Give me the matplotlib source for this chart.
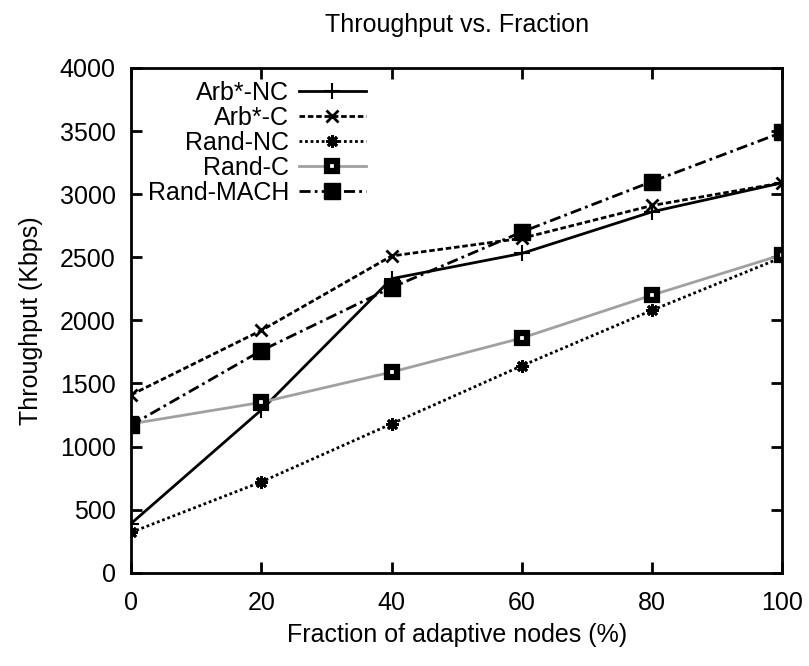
import matplotlib.pyplot as plt

plt.rcParams['font.family'] = ['Liberation Sans', 'DejaVu Sans']

fraction = [0, 20, 40, 60, 80, 100]
arb_nc = [390, 1290, 2330, 2530, 2860, 3090]
arb_c = [1410, 1920, 2510, 2650, 2910, 3090]
rand_nc = [320, 720, 1180, 1640, 2080, 2500]
rand_c = [1180, 1350, 1590, 1860, 2200, 2520]
rand_mach = [1170, 1760, 2260, 2700, 3100, 3490]

f = plt.figure(figsize=(8.09, 6.66), dpi=100)
f.subplots_adjust(left=0.162, right=0.967, bottom=0.140, top=0.898)
ax = f.add_subplot(111)

fs = 18
ax.plot(fraction, arb_nc, color="black", linewidth=2.0, linestyle="-",
        marker="+", markersize=12, markeredgewidth=1.5, label="Arb*-NC")
ax.plot(fraction, arb_c, color="black", linewidth=2.0, linestyle=(0, (2, 1)),
        marker="x", markersize=9, markeredgewidth=2.0, label="Arb*-C")
ax.plot(fraction, rand_nc, color="black", linewidth=2.0, linestyle=(0, (1, 1)),
        marker=(8, 2, 0), markersize=9, markeredgewidth=2.0, label="Rand-NC")
ax.plot(fraction, rand_c, color="#a0a0a0", linewidth=2.0, linestyle="-",
        marker="s", markersize=7, markerfacecolor="white", markeredgecolor="black",
        markeredgewidth=4.5, label="Rand-C")
ax.plot(fraction, rand_mach, color="black", linewidth=2.0, linestyle=(0, (4, 1.5, 1, 1.5)),
        marker="s", markersize=12, markerfacecolor="black", markeredgecolor="black",
        label="Rand-MACH")

ax.set_xlim(0, 100)
ax.set_ylim(0, 4000)
ax.set_xticks([0, 20, 40, 60, 80, 100])
ax.set_yticks(range(0, 4001, 500))
ax.tick_params(direction="in", length=8, width=2, labelsize=fs, top=True, right=True)
ax.tick_params(axis="x", pad=13)
ax.tick_params(axis="y", pad=11)
for s in ax.spines.values():
    s.set_linewidth(2)

ax.set_title("Throughput vs. Fraction", fontsize=fs, pad=26)
ax.set_xlabel("Fraction of adaptive nodes (%)", fontsize=fs, labelpad=6)
ax.set_ylabel("Throughput (Kbps)", fontsize=fs, labelpad=12)

leg = ax.legend(loc="upper right", bbox_to_anchor=(0.36, 0.975), frameon=False,
                markerfirst=False, fontsize=fs, handlelength=2.65,
                labelspacing=0.04, handletextpad=0.4, borderaxespad=0.0, borderpad=0.0)

f.savefig("out.png", dpi=100)
